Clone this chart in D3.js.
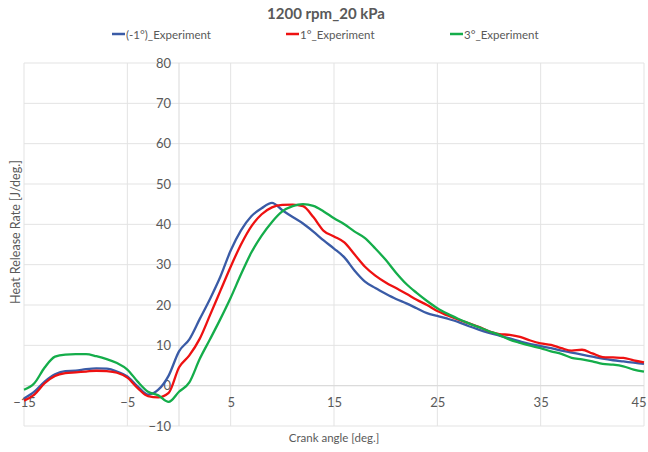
<!DOCTYPE html>
<html><head><meta charset="utf-8">
<script src="https://cdn.jsdelivr.net/npm/d3@7"></script>
<style>
body{margin:0;background:#fff;}
text{font-family:Lato,"Liberation Sans",sans-serif;}
</style></head><body>
<svg id="c" width="648" height="452"></svg>
<script>
const crankAngle = d3.range(-15, 46, 1);
const seriesNames = ["(-1°)_Experiment", "1°_Experiment", "3°_Experiment"];
const seriesColors = ["#3a5ba6", "#ee1111", "#14ad4a"];
const hrrMinus1 = [-3.2,-1.5,1.0,2.8,3.6,3.7,4.1,4.3,4.2,3.5,2.3,-0.2,-2.2,-1.0,2.5,8.5,11.5,16.5,21.5,27,33.5,38.5,42,44,45.3,43.5,41.8,40.2,38.2,36,34,31.8,28.5,25.8,24.2,22.8,21.5,20.4,19.2,18,17.3,16.6,15.8,14.8,13.9,13.1,12.4,11.7,11,10.3,9.8,9.3,8.7,8.2,7.7,7.2,6.7,6.3,6.0,5.7,5.4];
const hrrPlus1 = [-3.7,-2.2,0.6,2.4,3.1,3.3,3.5,3.7,3.6,3.2,2.0,-0.6,-2.6,-2.9,-1.8,4.5,7.5,11.6,17.5,23.5,29.5,35,39.5,42.5,44.2,44.8,44.9,44.5,41.8,38.4,37,35.5,32.5,29.5,27.3,25.6,24.2,22.8,21.3,20,18.5,17.4,16.4,15.5,14.6,13.5,12.8,12.6,12.1,11.2,10.5,10.1,9.3,8.7,8.9,8.0,7.1,7.0,6.9,6.3,5.8];
const hrrPlus3 = [-1.0,0.6,4.5,7.2,7.7,7.8,7.8,7.3,6.6,5.6,4.0,1.0,-1.5,-2.4,-4.0,-1.5,0.8,6.6,11.5,16.5,21.8,27.6,33,37.2,40.6,43.2,44.5,45,44.6,43.2,41.5,40,38.2,36.6,34,31.2,28,25.2,23,21,19.2,17.8,16.6,15.5,14.5,13.5,12.6,11.4,10.6,9.9,9.3,8.5,7.9,6.9,6.5,6.0,5.4,5.2,4.8,4.0,3.5];
const xTicks = [-15,-5,5,15,25,35,45];
const yTicks = [-10,0,10,20,30,40,50,60,70,80];
const titleText = "1200 rpm_20 kPa";
const xTitle = "Crank angle [deg.]";
const yTitle = "Heat Release Rate [J/deg.]";

const series = [hrrMinus1, hrrPlus1, hrrPlus3];
const svg = d3.select("#c");
const x = d3.scaleLinear().domain([-15,45]).range([24,644]);
const y = d3.scaleLinear().domain([-10,80]).range([426,63]);
const grey = "#595959";

svg.append("g").selectAll("line").data(yTicks).join("line")
  .attr("x1",x(-15)).attr("x2",x(45)).attr("y1",d=>y(d)).attr("y2",d=>y(d))
  .attr("stroke","#e3e3e3").attr("stroke-width",1);
svg.append("g").selectAll("line").data(xTicks).join("line")
  .attr("y1",y(-10)).attr("y2",y(80)).attr("x1",d=>x(d)).attr("x2",d=>x(d))
  .attr("stroke","#e3e3e3").attr("stroke-width",1);
svg.append("line").attr("x1",x(0)).attr("x2",x(0)).attr("y1",y(-10)).attr("y2",y(80)).attr("stroke","#d9d9d9");
svg.append("line").attr("x1",x(-15)).attr("x2",x(45)).attr("y1",y(0)).attr("y2",y(0)).attr("stroke","#d9d9d9");

const yAxis = d3.axisLeft(y).tickValues(yTicks).tickSize(0).tickPadding(8);
const gy = svg.append("g").attr("transform",`translate(${x(0)},0)`).call(yAxis);
gy.select(".domain").remove();
gy.selectAll("text").attr("fill",grey).style("font-size","13px").attr("font-family",null);
const xAxis = d3.axisBottom(x).tickValues(xTicks).tickSize(0).tickPadding(12);
const gx = svg.append("g").attr("transform",`translate(0,${y(0)})`).call(xAxis);
gx.select(".domain").remove();
gx.selectAll("text").attr("fill",grey).style("font-size","13px").attr("font-family",null);
gx.selectAll("text").filter(d=>d===45).attr("text-anchor","end").attr("dx","2");

const line = d3.line().x((d,i)=>x(crankAngle[i])).y(d=>y(d)).curve(d3.curveMonotoneX);
series.forEach((s,k)=>{
  svg.append("path").datum(s).attr("d",line).attr("fill","none")
    .attr("stroke",seriesColors[k]).attr("stroke-width",2.3).attr("stroke-linejoin","round");
});

svg.append("text").attr("x",326).attr("y",19).attr("text-anchor","middle")
  .attr("fill",grey).style("font-size","15px").style("font-weight","bold").text(titleText);
svg.append("text").attr("x",334).attr("y",442).attr("text-anchor","middle")
  .attr("fill",grey).style("font-size","11.5px").text(xTitle);
svg.append("text").attr("transform","translate(20,232) rotate(-90)").attr("text-anchor","middle")
  .attr("fill",grey).style("font-size","12.5px").text(yTitle);

const legX = [112, 286, 450];
seriesNames.forEach((n,k)=>{
  const g = svg.append("g").attr("transform",`translate(${legX[k]},34)`);
  g.append("line").attr("x1",0).attr("x2",13).attr("y1",0).attr("y2",0)
    .attr("stroke",seriesColors[k]).attr("stroke-width",2.5);
  g.append("text").attr("x",14).attr("y",4.5).attr("fill",grey).style("font-size","11.5px").text(n);
});
</script></body></html>
